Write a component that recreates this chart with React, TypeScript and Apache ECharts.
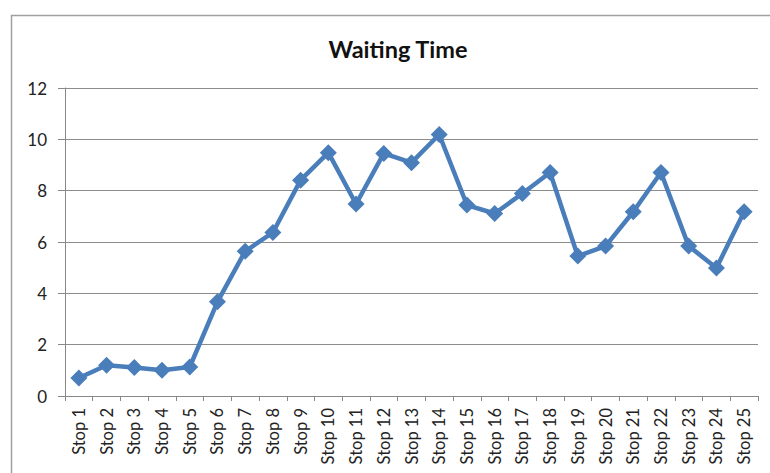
import React, { useEffect, useRef } from "react";
import * as echarts from "echarts";

const title = "Waiting Time";
const categories = [
  "Stop 1", "Stop 2", "Stop 3", "Stop 4", "Stop 5", "Stop 6", "Stop 7", "Stop 8", "Stop 9", "Stop 10",
  "Stop 11", "Stop 12", "Stop 13", "Stop 14", "Stop 15", "Stop 16", "Stop 17", "Stop 18", "Stop 19", "Stop 20",
  "Stop 21", "Stop 22", "Stop 23", "Stop 24", "Stop 25",
];
const waitingTime = [
  0.7, 1.2, 1.11, 1.0, 1.13, 3.67, 5.64, 6.37, 8.41, 9.48,
  7.48, 9.45, 9.09, 10.19, 7.44, 7.11, 7.89, 8.71, 5.45, 5.84,
  7.18, 8.71, 5.84, 4.99, 7.18,
];
const yMin = 0;
const yMax = 12;
const yInterval = 2;

const FONT = "Lato, 'Open Sans', sans-serif";

export default function App() {
  const ref = useRef<HTMLDivElement>(null);
  useEffect(() => {
    if (!ref.current) return;
    const chart = echarts.init(ref.current, undefined, { renderer: "svg" });
    chart.setOption({
      animation: false,
      backgroundColor: "#ffffff",
      title: {
        text: title,
        left: 393,
        top: 32,
        textAlign: "center",
        textStyle: { fontFamily: FONT, fontWeight: "bold", fontSize: 23.5, color: "#111" },
      },
      graphic: [
        {
          type: "polyline",
          shape: { points: [[11.5, 473], [11.5, 15.5], [770, 15.5]] },
          style: { stroke: "#a0a0a0", lineWidth: 1.5, fill: "none" },
        },
      ],
      grid: { left: 65, right: 12, top: 88, bottom: 77, containLabel: false },
      xAxis: {
        type: "category",
        data: categories,
        boundaryGap: true,
        axisLine: { lineStyle: { color: "#888", width: 1 } },
        axisTick: { show: true, length: 5, alignWithLabel: false, lineStyle: { color: "#888" } },
        axisLabel: {
          rotate: 90,
          interval: 0,
          margin: 12,
          fontFamily: FONT,
          fontSize: 16.5,
          color: "#222",
        },
      },
      yAxis: {
        type: "value",
        min: yMin,
        max: yMax,
        interval: yInterval,
        axisLine: { show: true, lineStyle: { color: "#888", width: 1 } },
        axisTick: { show: true, length: 7, lineStyle: { color: "#888" } },
        splitLine: { show: true, lineStyle: { color: "#8c8c8c", width: 1 } },
        axisLabel: { margin: 18, fontFamily: FONT, fontSize: 17, color: "#222" },
      },
      series: [
        {
          type: "line",
          data: waitingTime,
          symbol: "diamond",
          symbolSize: 17,
          lineStyle: { color: "#4a7ebb", width: 4.5 },
          itemStyle: { color: "#4a7ebb" },
        },
      ],
    });
    return () => chart.dispose();
  }, []);
  return (
    <div
      ref={ref}
      style={{ position: "fixed", left: 0, top: 0, width: 770, height: 473 }}
    />
  );
}
